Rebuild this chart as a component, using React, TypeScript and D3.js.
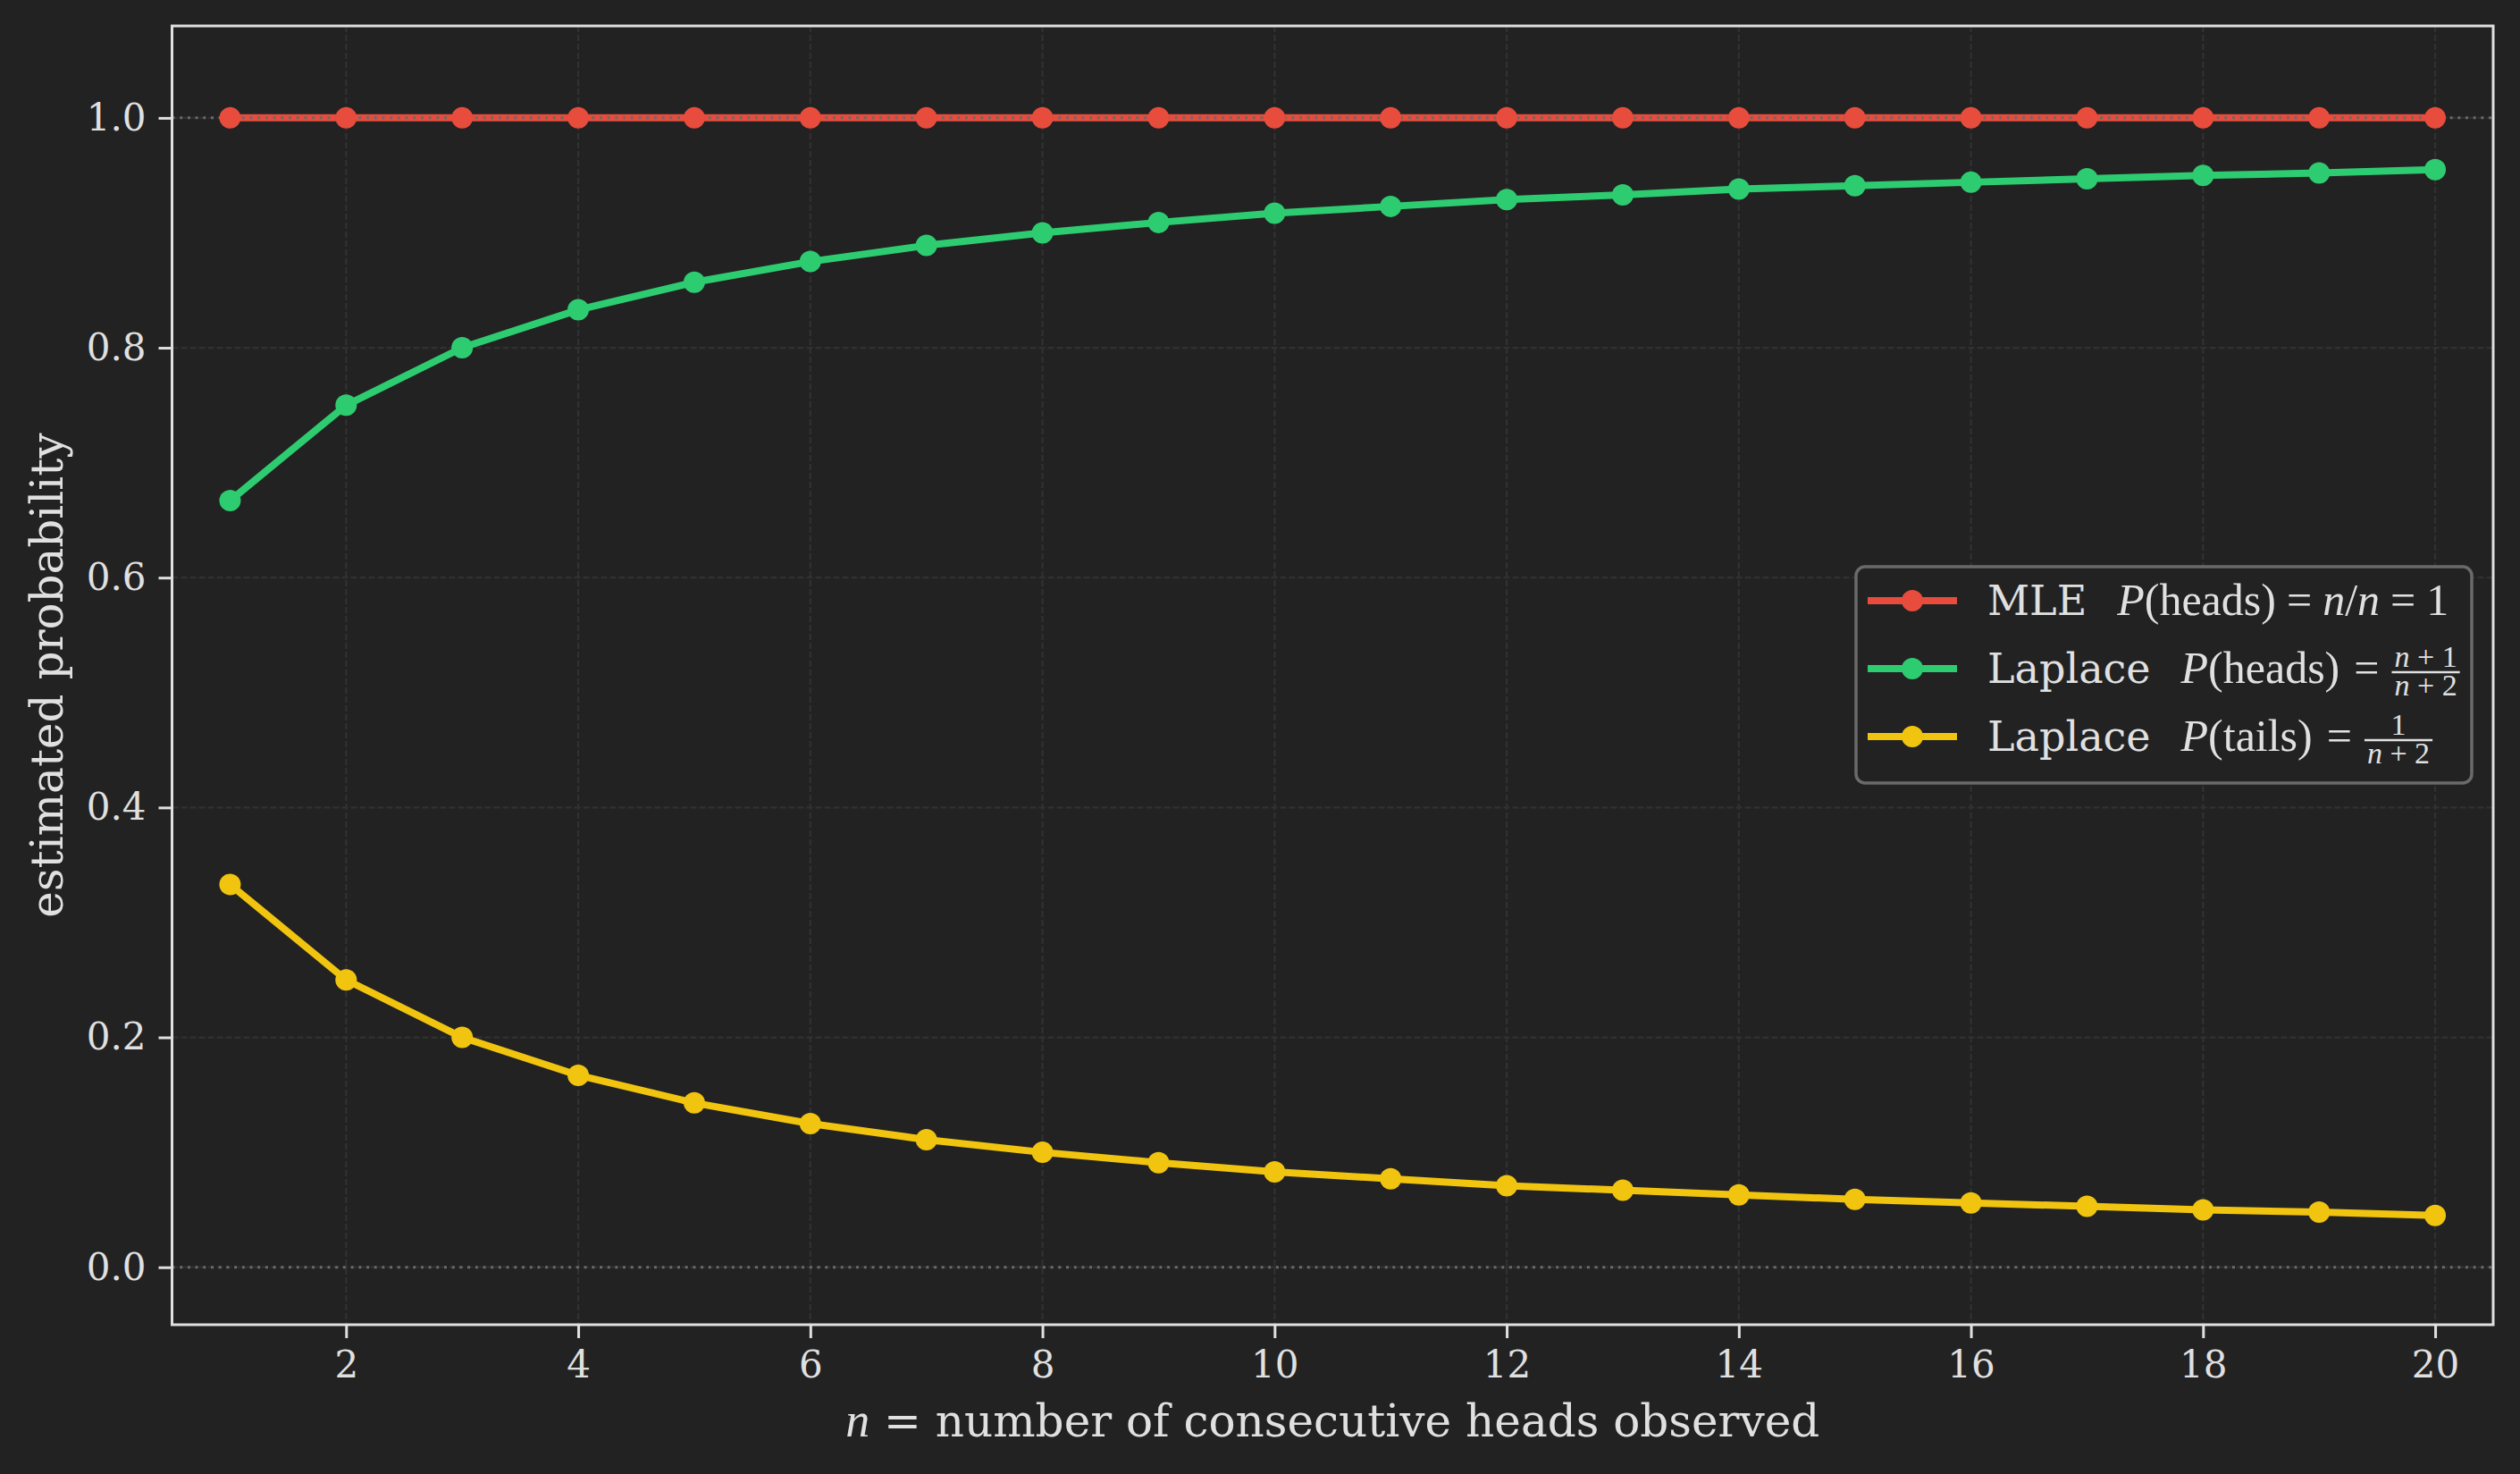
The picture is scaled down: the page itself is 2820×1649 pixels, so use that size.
import { useEffect, useRef } from 'react';
import * as d3 from 'd3';

// n = number of consecutive heads observed
const nValues = [1, 2, 3, 4, 5, 6, 7, 8, 9, 10, 11, 12, 13, 14, 15, 16, 17, 18, 19, 20];
const mleHeads = [1, 1, 1, 1, 1, 1, 1, 1, 1, 1, 1, 1, 1, 1, 1, 1, 1, 1, 1, 1];
const laplaceHeads = [0.667, 0.75, 0.8, 0.833, 0.857, 0.875, 0.889, 0.9, 0.909, 0.917, 0.923, 0.929, 0.933, 0.938, 0.941, 0.944, 0.947, 0.95, 0.952, 0.955];
const laplaceTails = [0.333, 0.25, 0.2, 0.167, 0.143, 0.125, 0.111, 0.1, 0.091, 0.083, 0.077, 0.071, 0.067, 0.063, 0.059, 0.056, 0.053, 0.05, 0.048, 0.045];
const xTicks = [2, 4, 6, 8, 10, 12, 14, 16, 18, 20];
const yTicks = [0, 0.2, 0.4, 0.6, 0.8, 1.0];
const refLines = [0, 1];

const seriesNames = ['MLE', 'Laplace', 'Laplace'];
const seriesColors = ['#e74c3c', '#2ecc71', '#f1c40f'];
const seriesValues = [mleHeads, laplaceHeads, laplaceTails];
const seriesEvents = ['heads', 'heads', 'tails'];
const seriesNumerators = ['', 'n + 1', '1'];

const W = 2820;
const H = 1649;
const BG = '#222222';
const FG = '#e0e0e0';
const SERIF = '"DejaVu Serif", serif';
const MATH = '"Liberation Serif", "Times New Roman", serif';

export default function App() {
  const svgRef = useRef<SVGSVGElement>(null);

  useEffect(() => {
    document.body.style.margin = '0';
    document.body.style.background = BG;
    const svg = d3.select(svgRef.current);
    svg.selectAll('*').remove();

    const left = 192.5, right = 2790, top = 29, bottom = 1482;
    const x = d3.scaleLinear().domain([0.5, 20.5]).range([left, right]);
    const y = d3.scaleLinear().domain([-0.05, 1.08]).range([bottom, top]);

    svg.append('rect').attr('width', W).attr('height', H).attr('fill', BG);

    // grid
    const grid = svg.append('g');
    grid.selectAll('line.vx').data(xTicks).join('line')
      .attr('x1', d => x(d)).attr('x2', d => x(d))
      .attr('y1', top).attr('y2', bottom)
      .attr('stroke', '#313131').attr('stroke-width', 2.2).attr('stroke-dasharray', '7,3');
    grid.selectAll('line.hy').data(yTicks).join('line')
      .attr('y1', d => y(d)).attr('y2', d => y(d))
      .attr('x1', left).attr('x2', right)
      .attr('stroke', '#313131').attr('stroke-width', 2.2).attr('stroke-dasharray', '7,3');

    // series lines
    const line = d3.line<number>().x((_, i) => x(nValues[i])).y(d => y(d));
    seriesValues.forEach((vals, k) => {
      svg.append('path').attr('d', line(vals))
        .attr('fill', 'none').attr('stroke', seriesColors[k])
        .attr('stroke-width', 8).attr('stroke-linejoin', 'round').attr('stroke-linecap', 'round');
    });

    // dotted reference lines
    svg.selectAll('line.ref').data(refLines).join('line')
      .attr('x1', left).attr('x2', right)
      .attr('y1', d => y(d)).attr('y2', d => y(d))
      .attr('stroke', '#6a6a6a').attr('stroke-width', 3).attr('stroke-dasharray', '3,5.7');

    // markers
    seriesValues.forEach((vals, k) => {
      svg.append('g').selectAll('circle').data(vals).join('circle')
        .attr('cx', (_, i) => x(nValues[i])).attr('cy', d => y(d))
        .attr('r', 12).attr('fill', seriesColors[k]);
    });

    // spines
    svg.append('rect').attr('x', left).attr('y', top)
      .attr('width', right - left).attr('height', bottom - top)
      .attr('fill', 'none').attr('stroke', FG).attr('stroke-width', 3);

    // axes
    const xAxis = svg.append('g').attr('transform', `translate(0,${bottom})`)
      .call(d3.axisBottom(x).tickValues(xTicks).tickSize(15).tickPadding(14));
    const yAxis = svg.append('g').attr('transform', `translate(${left},0)`)
      .call(d3.axisLeft(y).tickValues(yTicks).tickFormat(d3.format('.1f')).tickSize(15).tickPadding(14));
    [xAxis, yAxis].forEach(ax => {
      ax.select('.domain').remove();
      ax.selectAll('line').attr('stroke', FG).attr('stroke-width', 3);
      ax.selectAll('text').attr('fill', FG).attr('font-family', SERIF).attr('font-size', 42);
    });

    // axis labels
    const xl = svg.append('text').attr('x', (left + right) / 2).attr('y', 1607)
      .attr('text-anchor', 'middle').attr('fill', FG).attr('font-family', SERIF).attr('font-size', 50);
    xl.append('tspan').attr('font-family', MATH).attr('font-style', 'italic').attr('font-size', 54).text('n');
    xl.append('tspan').text(' = number of consecutive heads observed');

    svg.append('text')
      .attr('transform', `translate(70,${(top + bottom) / 2}) rotate(-90)`)
      .attr('text-anchor', 'middle').attr('fill', FG).attr('font-family', SERIF).attr('font-size', 50)
      .text('estimated probability');

    // legend
    const lg = svg.append('g');
    lg.append('rect').attr('x', 2077).attr('y', 634).attr('width', 689).attr('height', 242)
      .attr('rx', 10).attr('fill', BG).attr('stroke', '#6a6a6a').attr('stroke-width', 3.5);
    const rowY = [672, 748, 824];
    seriesNames.forEach((name, k) => {
      const cy = rowY[k];
      lg.append('line').attr('x1', 2090).attr('x2', 2190).attr('y1', cy).attr('y2', cy)
        .attr('stroke', seriesColors[k]).attr('stroke-width', 8);
      lg.append('circle').attr('cx', 2140).attr('cy', cy).attr('r', 12).attr('fill', seriesColors[k]);
      const label = lg.append('text').attr('x', 2224).attr('y', cy + 16)
        .attr('fill', FG).attr('font-family', SERIF).attr('font-size', 46).text(name);
      const lw = (label.node() as SVGTextElement).getComputedTextLength();
      const mx = 2224 + lw + 34;
      const math = lg.append('text').attr('x', mx).attr('y', cy + 16)
        .attr('fill', FG).attr('font-family', MATH).attr('font-size', 50);
      math.append('tspan').attr('font-style', 'italic').text('P');
      math.append('tspan').text(`(${seriesEvents[k]})`);
      if (k === 0) {
        math.append('tspan').attr('dx', 12).text('=');
        math.append('tspan').attr('dx', 12).attr('font-style', 'italic').text('n');
        math.append('tspan').text('/');
        math.append('tspan').attr('font-style', 'italic').text('n');
        math.append('tspan').attr('dx', 12).text('=');
        math.append('tspan').attr('dx', 12).text('1');
      } else {
        math.append('tspan').attr('dx', 16).text('=');
        const mb = (math.node() as SVGTextElement).getBBox();
        const fx = mb.x + mb.width + 14;
        // numerator and denominator in one text element, each centred on the bar
        const frac = lg.append('text').attr('fill', FG)
          .attr('font-family', MATH).attr('font-size', 34).attr('text-anchor', 'middle');
        const num = frac.append('tspan').attr('y', cy - 2);
        const numParts = seriesNumerators[k].split(' ');
        numParts.forEach((p, i) => {
          num.append('tspan').attr('font-style', p === 'n' ? 'italic' : 'normal')
            .text(p + (i === numParts.length - 1 ? '' : ' '));
        });
        const den = frac.append('tspan').attr('y', cy + 30);
        den.append('tspan').attr('font-style', 'italic').text('n ');
        den.append('tspan').text('+ 2');
        const nw = (num.node() as SVGTSpanElement).getComputedTextLength();
        const dw = (den.node() as SVGTSpanElement).getComputedTextLength();
        const bw = Math.max(nw, dw) + 6;
        num.attr('x', fx + bw / 2);
        den.attr('x', fx + bw / 2);
        lg.append('line').attr('x1', fx).attr('x2', fx + bw)
          .attr('y1', cy + 4).attr('y2', cy + 4).attr('stroke', FG).attr('stroke-width', 2.5);
      }
    });
  }, []);

  return (
    <svg ref={svgRef} width={W} height={H} viewBox={`0 0 ${W} ${H}`} style={{ display: 'block' }} />
  );
}
